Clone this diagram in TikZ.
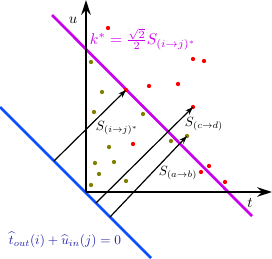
\documentclass[tikz,border=0pt]{standalone}
\usetikzlibrary{arrows.meta}
\definecolor{mag}{RGB}{200,0,235}
\definecolor{bl}{RGB}{10,80,255}
\definecolor{bltxt}{RGB}{30,30,170}
\definecolor{oli}{RGB}{128,128,0}
\begin{document}
\begin{tikzpicture}[x=0.75pt,y=-0.75pt,
  axis/.style={line width=2.2pt,-{Stealth[length=11pt,width=7pt]}},
  sarrow/.style={line width=0.9pt,-{Stealth[length=6pt,width=4.2pt]}},
  rdot/.style={circle,fill=red,inner sep=0pt,minimum size=3.2pt},
  odot/.style={circle,fill=oli,inner sep=0pt,minimum size=3.2pt},
  lbl/.style={inner sep=1pt}]
\useasboundingbox (0,0) rectangle (272,258);
% lines
\draw[bl,line width=2pt] (0,107) -- (151,258);
\draw[mag,line width=2pt] (52,15) -- (252,216);
% axes
\coordinate (O) at (86,192);
\coordinate (U) at (86,0);
\coordinate (T) at (272,192);
\draw[axis] (O) -- (U);
\draw[axis] (O) -- (T);
% dots
\node[rdot] (r1) at (108,28) {};
\node[rdot] (r2) at (126,90) {};
\node[rdot] (r3) at (193,59) {};
\node[rdot] (r4) at (204,61) {};
\node[rdot] (r5) at (149,86) {};
\node[rdot] (r6) at (178,84) {};
\node[rdot] (r7) at (193,107) {};
\node[rdot] (r8) at (133,144) {};
\node[rdot] (r9) at (209,166) {};
\node[rdot] (r10) at (201,172) {};
\node[rdot] (r11) at (225,182) {};
\node[odot] (o1) at (91,62) {};
\node[odot] (o2) at (102,92) {};
\node[odot] (o3) at (94,112) {};
\node[odot] (o4) at (143,114) {};
\node[odot] (o5) at (109,147) {};
\node[odot] (o6) at (95,163) {};
\node[odot] (o7) at (114,162) {};
\node[odot] (o8) at (99,174) {};
\node[odot] (o9) at (91,185) {};
\node[odot] (o10) at (126,181) {};
\node[odot] (o11) at (171,141) {};
\node[odot] (o12) at (187,136) {};
% arrows
\coordinate (b1) at (54,161);
\coordinate (b2) at (96,203);
\coordinate (b3) at (110,217);
\draw[sarrow] (b1) -- (r2.center);
\draw[sarrow] (b2) -- (r7.center);
\draw[sarrow] (b3) -- (o12.center);
% labels
\node[lbl,scale=1.1] (lu) at (73,20) {$u$};
\node[lbl,scale=1.1] (lt) at (250,203) {$t$};
\node[lbl,text=mag,scale=1.17] (lk) at (143,39) {$k^{*}=\frac{\sqrt{2}}{2}S_{(i\to j)^{*}}$};
\node[lbl] (lij) at (117,128) {$S_{(i\to j)^{*}}$};
\node[lbl] (lcd) at (204,124) {$S_{(c\to d)}$};
\node[lbl] (lab) at (178,173) {$S_{(a\to b)}$};
\node[lbl,text=bltxt] (lb) at (65,240) {$\widehat{t}_{out}(i)+\widehat{u}_{in}(j)=0$};
\end{tikzpicture}
\end{document}
